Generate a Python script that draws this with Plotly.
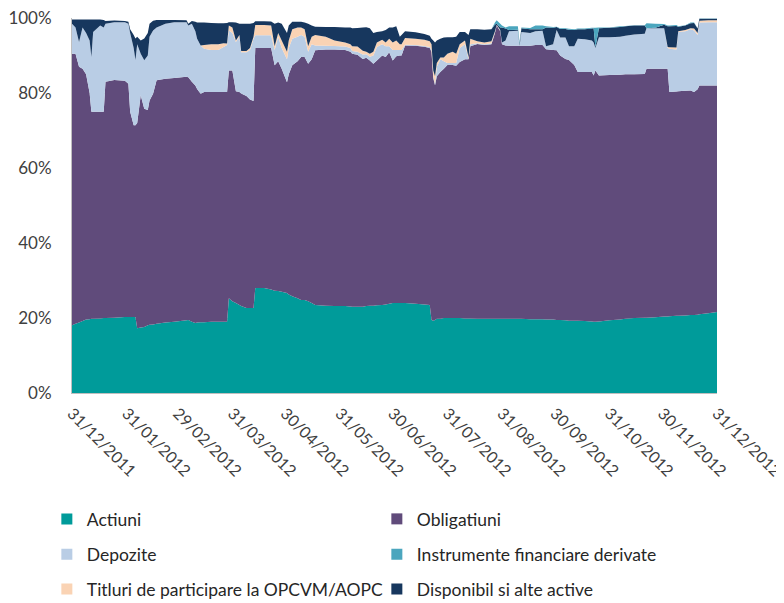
import plotly.graph_objects as go

dates = [
    "2011-12-31", "2012-01-02", "2012-01-04", "2012-01-06", "2012-01-08", "2012-01-10", "2012-01-11", "2012-01-12", "2012-01-16", "2012-01-18",
    "2012-01-19", "2012-01-24", "2012-01-30", "2012-02-01", "2012-02-02", "2012-02-04", "2012-02-05", "2012-02-06", "2012-02-08", "2012-02-10",
    "2012-02-12", "2012-02-13", "2012-02-15", "2012-02-17", "2012-02-22", "2012-02-27", "2012-03-05", "2012-03-06", "2012-03-08", "2012-03-10",
    "2012-03-11", "2012-03-13", "2012-03-15", "2012-03-19", "2012-03-23", "2012-03-26", "2012-03-28", "2012-03-29", "2012-03-31", "2012-04-02",
    "2012-04-04", "2012-04-05", "2012-04-08", "2012-04-10", "2012-04-12", "2012-04-13", "2012-04-18", "2012-04-22", "2012-04-24", "2012-04-26",
    "2012-04-28", "2012-05-01", "2012-05-02", "2012-05-04", "2012-05-07", "2012-05-09", "2012-05-11", "2012-05-13", "2012-05-15", "2012-05-17",
    "2012-05-23", "2012-05-28", "2012-06-03", "2012-06-06", "2012-06-07", "2012-06-10", "2012-06-13", "2012-06-15", "2012-06-17", "2012-06-19",
    "2012-06-21", "2012-06-24", "2012-06-26", "2012-06-28", "2012-06-30", "2012-07-02", "2012-07-04", "2012-07-05", "2012-07-07", "2012-07-13",
    "2012-07-18", "2012-07-21", "2012-07-22", "2012-07-23", "2012-07-24", "2012-07-25", "2012-07-27", "2012-07-29", "2012-07-31", "2012-08-03",
    "2012-08-05", "2012-08-07", "2012-08-10", "2012-08-12", "2012-08-13", "2012-08-17", "2012-08-21", "2012-08-25", "2012-08-27", "2012-08-28",
    "2012-08-30", "2012-08-31", "2012-09-02", "2012-09-04", "2012-09-09", "2012-09-10", "2012-09-11", "2012-09-16", "2012-09-19", "2012-09-23",
    "2012-09-25", "2012-09-29", "2012-10-01", "2012-10-03", "2012-10-06", "2012-10-08", "2012-10-11", "2012-10-13", "2012-10-17", "2012-10-21",
    "2012-10-22", "2012-10-23", "2012-10-25", "2012-10-31", "2012-11-06", "2012-11-09", "2012-11-14", "2012-11-20", "2012-11-21", "2012-11-26",
    "2012-12-01", "2012-12-03", "2012-12-04", "2012-12-08", "2012-12-09", "2012-12-13", "2012-12-16", "2012-12-18", "2012-12-20", "2012-12-21",
    "2012-12-26", "2012-12-31",
]

actiuni = [
    18.1, 18.5, 18.8, 19.2, 19.6, 19.7, 19.8, 19.8, 19.9, 20.0,
    20.0, 20.1, 20.3, 20.3, 20.3, 20.3, 20.3, 17.3, 17.5, 17.6,
    18.1, 18.2, 18.3, 18.5, 18.8, 19.0, 19.4, 19.5, 19.0, 18.7,
    18.8, 18.9, 18.9, 19.0, 19.0, 19.0, 19.0, 25.3, 24.5, 24.0,
    23.5, 23.2, 22.7, 22.7, 22.7, 28.0, 28.0, 27.6, 27.3, 27.2,
    27.0, 26.7, 26.3, 25.8, 25.3, 24.8, 24.8, 24.5, 24.0, 23.5,
    23.3, 23.2, 23.2, 23.1, 23.0, 23.0, 23.0, 23.2, 23.3, 23.3,
    23.4, 23.5, 23.6, 23.8, 24.0, 24.0, 24.0, 24.0, 24.0, 23.8,
    23.6, 23.5, 19.5, 19.3, 19.5, 19.8, 19.8, 20.0, 20.0, 20.0,
    20.0, 20.0, 19.9, 19.9, 19.9, 19.8, 19.8, 19.8, 19.8, 19.8,
    19.8, 19.8, 19.8, 19.8, 19.8, 19.8, 19.8, 19.7, 19.7, 19.7,
    19.6, 19.6, 19.5, 19.5, 19.4, 19.3, 19.3, 19.3, 19.2, 19.1,
    19.0, 19.0, 19.1, 19.4, 19.6, 19.8, 20.0, 20.1, 20.1, 20.2,
    20.4, 20.4, 20.5, 20.6, 20.6, 20.7, 20.8, 20.8, 20.9, 21.0,
    21.3, 21.6,
]

obligatiuni = [
    72.4, 72.0, 68.2, 67.3, 65.4, 60.3, 55.2, 55.2, 55.1, 55.0,
    63.0, 63.4, 63.0, 62.2, 54.7, 51.1, 51.1, 54.7, 61.9, 58.2,
    57.4, 59.8, 61.5, 64.9, 65.0, 65.0, 64.9, 64.7, 64.0, 63.3,
    62.3, 60.9, 61.4, 61.3, 61.3, 61.3, 61.3, 60.7, 61.5, 56.5,
    56.8, 56.7, 56.5, 55.6, 55.2, 64.0, 64.0, 64.4, 60.1, 61.3,
    59.5, 56.2, 58.7, 61.6, 63.2, 64.8, 64.8, 63.3, 65.0, 67.9,
    68.3, 68.4, 68.3, 67.9, 67.5, 67.2, 66.1, 66.2, 65.4, 64.5,
    65.3, 66.5, 66.0, 67.1, 64.7, 65.8, 66.0, 66.0, 68.7, 68.8,
    68.7, 68.5, 71.5, 64.7, 62.6, 64.7, 65.8, 66.5, 67.5, 67.5,
    67.3, 68.3, 69.1, 69.1, 72.6, 73.3, 73.0, 73.2, 76.2, 78.2,
    76.7, 73.2, 72.9, 72.8, 72.8, 72.8, 72.8, 72.9, 73.1, 73.1,
    72.1, 71.9, 71.9, 70.5, 69.7, 69.5, 68.2, 66.3, 66.4, 66.5,
    65.7, 67.0, 65.6, 65.4, 65.3, 65.2, 65.0, 65.0, 66.4, 66.3,
    66.1, 66.1, 59.8, 59.8, 59.9, 59.9, 59.9, 59.5, 60.1, 61.0,
    60.7, 60.4,
]

depozite = [
    8.0, 7.0, 6.6, 11.0, 11.0, 14.0, 14.6, 21.3, 23.0, 22.5,
    15.5, 15.4, 15.6, 16.0, 21.0, 20.6, 17.4, 21.0, 11.1, 12.9,
    14.5, 17.0, 16.9, 14.1, 14.7, 14.9, 14.6, 13.8, 15.5, 14.5,
    13.4, 12.9, 11.5, 11.2, 11.2, 12.0, 12.5, 10.7, 10.0, 13.1,
    14.7, 11.0, 11.7, 13.2, 16.6, 3.4, 3.4, 3.4, 4.1, 6.5,
    5.5, 6.1, 7.0, 7.1, 6.5, 5.9, 5.4, 3.2, 4.0, 1.3,
    1.0, 0.9, 0.9, 1.0, 0.7, 0.8, 1.2, 0.9, 1.0, 2.2,
    3.6, 3.0, 2.9, 1.6, 2.8, 1.7, 1.5, 1.5, 0.2, 0.2,
    0.2, 0.3, 0.5, 0.5, 0.4, 2.5, 3.4, 2.0, 0.5, 0.5,
    0.7, 3.7, 4.0, 0.0, 0.5, 0.2, 0.2, 0.3, 0.2, 0.1,
    0.2, 0.5, 1.3, 3.9, 4.0, 0.0, 3.7, 3.4, 3.7, 3.8,
    0.8, 1.5, 5.4, 4.8, 5.7, 3.7, 5.0, 8.9, 8.7, 8.4,
    8.8, 6.0, 10.2, 10.1, 10.1, 10.3, 10.6, 10.7, 10.8, 10.8,
    10.8, 5.5, 11.5, 11.2, 15.8, 15.9, 16.3, 16.4, 14.5, 16.8,
    16.9, 16.9,
]

titluri = [
    0.0, 0.0, 0.0, 0.0, 0.0, 0.0, 0.0, 0.0, 0.0, 0.0,
    0.0, 0.0, 0.0, 0.0, 0.0, 0.0, 0.0, 0.0, 0.0, 0.0,
    0.0, 0.0, 0.0, 0.0, 0.0, 0.0, 0.0, 0.0, 0.0, 0.0,
    0.0, 0.0, 1.0, 1.5, 1.5, 1.0, 0.4, 1.3, 1.5, 0.4,
    0.5, 0.3, 0.3, 0.5, 0.5, 2.7, 2.7, 2.6, 1.0, 1.0,
    2.0, 2.0, 2.0, 2.5, 2.5, 2.0, 2.0, 1.5, 2.0, 2.8,
    2.4, 1.5, 1.1, 1.0, 1.3, 1.4, 1.0, 0.7, 0.8, 1.0,
    1.2, 1.2, 1.0, 2.0, 2.0, 2.5, 1.5, 1.5, 1.8, 1.7,
    1.7, 1.5, 1.5, 1.5, 2.0, 1.0, 0.5, 1.0, 2.5, 3.0,
    2.5, 1.0, 1.0, 0.5, 1.5, 0.5, 0.5, 0.5, 0.3, 0.1,
    0.1, 0.0, 0.0, 0.0, 0.0, 0.0, 0.0, 0.0, 0.0, 0.0,
    0.0, 0.0, 0.0, 0.0, 0.0, 0.0, 0.0, 0.0, 0.0, 0.0,
    0.0, 0.0, 0.0, 0.0, 0.0, 0.0, 0.0, 0.0, 0.0, 0.0,
    0.0, 0.3, 0.4, 0.5, 0.2, 0.3, 0.3, 0.5, 0.5, 0.5,
    0.5, 0.5,
]

disponibil = [
    1.1, 2.1, 6.0, 2.1, 3.6, 5.6, 10.0, 3.3, 1.6, 2.0,
    0.7, 0.4, 0.3, 0.5, 1.0, 3.5, 5.7, 2.0, 3.5, 5.8,
    6.0, 3.5, 2.6, 2.0, 1.0, 0.6, 0.5, 0.5, 0.7, 2.5,
    4.3, 6.1, 6.0, 5.7, 5.6, 5.3, 5.5, 0.9, 1.4, 4.8,
    3.0, 7.3, 7.3, 6.5, 3.7, 1.0, 1.0, 1.1, 6.0, 2.8,
    4.5, 5.0, 4.0, 2.0, 1.5, 1.5, 1.8, 6.0, 3.0, 2.2,
    2.6, 3.6, 4.0, 4.5, 4.8, 4.9, 6.2, 6.5, 6.8, 5.0,
    2.8, 2.3, 3.3, 3.0, 4.0, 3.8, 2.0, 2.5, 1.8, 1.7,
    1.5, 1.5, 1.5, 8.0, 9.0, 6.0, 5.0, 5.3, 4.4, 3.9,
    4.5, 3.3, 2.3, 6.0, 2.5, 3.2, 3.4, 3.2, 1.8, 0.3,
    0.7, 4.0, 3.2, 0.3, 0.3, 0.4, 1.0, 1.0, 0.5, 0.4,
    5.0, 4.4, 0.8, 2.3, 2.3, 4.4, 4.3, 2.5, 2.7, 3.2,
    3.8, 0.3, 2.4, 2.5, 2.6, 2.5, 2.4, 2.2, 0.0, 0.1,
    0.9, 5.5, 5.6, 5.8, 1.2, 1.2, 1.3, 1.5, 1.2, 0.5,
    0.4, 0.4,
]

instrumente = [
    0.0, 0.0, 0.0, 0.0, 0.0, 0.0, 0.0, 0.0, 0.0, 0.0,
    0.0, 0.0, 0.0, 0.0, 0.0, 0.0, 0.0, 0.0, 0.0, 0.0,
    0.0, 0.0, 0.0, 0.0, 0.0, 0.0, 0.0, 0.0, 0.0, 0.0,
    0.0, 0.0, 0.0, 0.0, 0.0, 0.0, 0.0, 0.0, 0.0, 0.0,
    0.0, 0.0, 0.0, 0.0, 0.0, 0.0, 0.0, 0.0, 0.0, 0.0,
    0.0, 0.0, 0.0, 0.0, 0.0, 0.0, 0.0, 0.0, 0.0, 0.0,
    0.0, 0.0, 0.0, 0.0, 0.0, 0.0, 0.0, 0.0, 0.0, 0.0,
    0.0, 0.0, 0.0, 0.0, 0.0, 0.0, 0.0, 0.0, 0.0, 0.0,
    0.0, 0.0, 0.0, 0.0, 0.0, 0.0, 0.0, 0.0, 0.0, 0.0,
    0.0, 0.0, 0.0, 0.0, 0.0, 0.0, 0.0, 0.0, 0.5, 0.9,
    1.0, 0.5, 0.3, 1.0, 0.9, 0.5, 0.2, 0.3, 1.0, 1.0,
    0.3, 0.2, 0.1, 0.2, 0.2, 0.2, 0.2, 0.2, 0.2, 0.2,
    0.1, 5.1, 0.2, 0.1, 0.2, 0.1, 0.1, 0.1, 1.3, 1.1,
    0.2, 0.2, 0.2, 0.2, 0.1, 0.1, 0.2, 0.1, 0.1, 0.1,
    0.1, 0.1,
]

tick_dates = [
    "2011-12-31", "2012-01-31", "2012-02-29", "2012-03-31", "2012-04-30", "2012-05-31", "2012-06-30",
    "2012-07-31", "2012-08-31", "2012-09-30", "2012-10-31", "2012-11-30", "2012-12-31",
]
tick_labels = [
    "31/12/2011", "31/01/2012", "29/02/2012", "31/03/2012", "30/04/2012", "31/05/2012", "30/06/2012",
    "31/07/2012", "31/08/2012", "30/09/2012", "31/10/2012", "30/11/2012", "31/12/2012",
]
y_ticks = [0, 20, 40, 60, 80, 100]

names = {
    "act": "Actiuni",
    "obl": "Obligatiuni",
    "dep": "Depozite",
    "ins": "Instrumente financiare derivate",
    "tit": "Titluri de participare la OPCVM/AOPC",
    "dis": "Disponibil si alte active",
}
colors = {
    "act": "#009B9A",
    "obl": "#604B7B",
    "dep": "#B9CDE5",
    "ins": "#4BA6BE",
    "tit": "#FAD3B4",
    "dis": "#17375E",
}

fig = go.Figure()

# stacked areas (bottom to top)
stack = [("act", actiuni), ("obl", obligatiuni), ("dep", depozite),
         ("tit", titluri), ("dis", disponibil), ("ins", instrumente)]
for key, vals in stack:
    fig.add_trace(go.Scatter(
        x=dates, y=vals, name=names[key], stackgroup="one", mode="none",
        fillcolor=colors[key], line=dict(width=0), showlegend=False,
        hovertemplate="%{x|%d/%m/%Y}: %{y:.1f}%<extra>" + names[key] + "</extra>",
    ))

# legend entries (square markers), three rows of two
legend_rows = [("legend", ["act", "obl"]), ("legend2", ["dep", "ins"]), ("legend3", ["tit", "dis"])]
for lg, keys in legend_rows:
    for key in keys:
        fig.add_trace(go.Scatter(
            x=[None], y=[None], mode="markers", name=names[key], legend=lg,
            marker=dict(symbol="square", size=11, color=colors[key]),
            showlegend=True, hoverinfo="skip",
        ))

FONT = "Lato, Calibri, Carlito, sans-serif"
leg_common = dict(
    orientation="h", xanchor="left", yanchor="middle", x=-0.039,
    traceorder="normal",
    entrywidth=285, entrywidthmode="pixels",
    font=dict(family=FONT, size=17.5, color="#262626"),
    bgcolor="rgba(0,0,0,0)", borderwidth=0, itemclick=False, itemdoubleclick=False,
)

# the page body adds an 8 px offset, so the figure is 8 px smaller on each axis
fig.update_layout(
    width=776, height=595,
    margin=dict(l=64, r=67, t=10, b=210, autoexpand=False),
    paper_bgcolor="white", plot_bgcolor="white",
    font=dict(family=FONT, size=17, color="#404040"),
    showlegend=True,
    legend=dict(y=-0.336, **leg_common),
    legend2=dict(y=-0.430, **leg_common),
    legend3=dict(y=-0.523, **leg_common),
    xaxis=dict(
        type="date", range=["2011-12-31", "2012-12-31"],
        tickmode="array", tickvals=tick_dates, ticktext=tick_labels,
        tickangle=45, tickfont=dict(family=FONT, size=16, color="#404040"),
        showgrid=False, zeroline=False, showline=True, linecolor="#BFBFBF", linewidth=1,
        ticks="", ticklabelstandoff=4, automargin=False, ticklabeloverflow="allow",
    ),
    yaxis=dict(
        range=[0, 100], tickmode="array", tickvals=y_ticks,
        ticktext=[f"{v}%" for v in y_ticks],
        tickfont=dict(family=FONT, size=17, color="#404040"),
        showgrid=True, gridcolor="#D9D9D9", gridwidth=1, zeroline=False,
        showline=True, linecolor="#BFBFBF", linewidth=1, ticks="",
        ticklabelstandoff=16, automargin=False, ticklabeloverflow="allow",
    ),
)

fig.write_html("out.html")
